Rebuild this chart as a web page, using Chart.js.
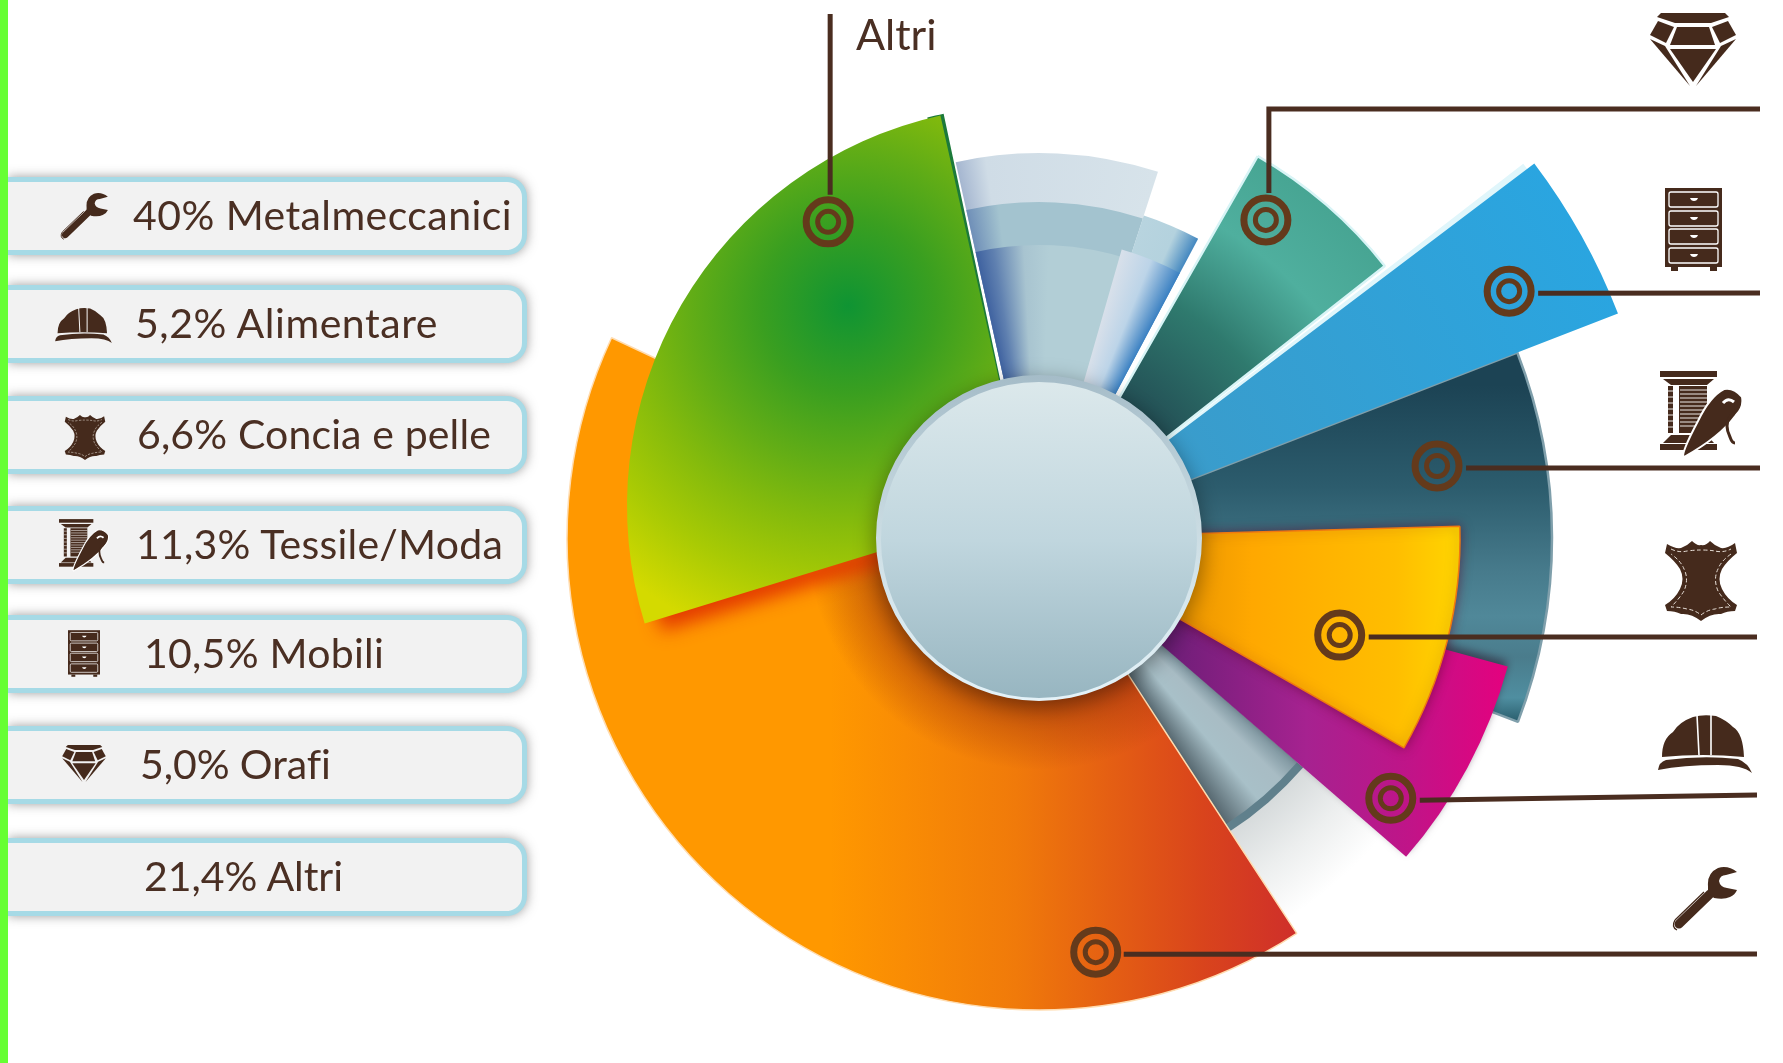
<!DOCTYPE html>
<html lang="it"><head><meta charset="utf-8">
<style>
html,body{margin:0;padding:0;background:#fff;width:1783px;height:1063px;overflow:hidden}
#wrap{position:relative;width:1783px;height:1063px}
canvas{position:absolute;left:0;top:0}
#bar{position:absolute;left:0;top:0;width:8px;height:1063px;background:#66ff33;z-index:3}
.pill{position:absolute;left:8px;width:514px;height:68px;background:#f2f2f2;border:5px solid #a6dae6;border-left:none;border-radius:0 20px 20px 0;box-shadow:0 0 11px rgba(60,60,60,.5);z-index:2}
.txt{position:absolute;z-index:4;font-family:Lato,sans-serif;font-size:41px;line-height:46px;color:#4a2f23;white-space:pre}
.ic{position:absolute;z-index:4;fill:#452a1c}
</style></head><body>
<div id="wrap"><div id="bar"></div><canvas id="c" width="1783" height="1063"></canvas>
<svg width="0" height="0" style="position:absolute"><defs>
<symbol id="wrench" viewBox="0 0 65 64"><path d="M7 57L38 27" stroke="#452a1c" stroke-width="9" stroke-linecap="round" fill="none"/><path d="M3 53L32 25" stroke="#452a1c" stroke-width="1.3" fill="none"/><path d="M3 53Q-1 60 5 63" stroke="#452a1c" stroke-width="1.3" fill="none"/><path d="M65 5Q56-2 46 1Q35 6 36 19L36 25L42 31Q52 33 58 30Q63 28 65 23L55 21Q48 20 47 14Q48 8 54 8Z"/></symbol>
<symbol id="helmet" viewBox="0 0 94 58"><path d="M4 42Q4 24 15 17Q21 7 35 2Q45-1 58 1Q68 5 75 12Q85 18 86 42Q45 38 4 42Z"/><path d="M39 0L41 40M53 0L53 40" stroke="#fff" stroke-width="1.6" fill="none"/><path d="M0 55Q1 47 8 45Q45 40 80 44Q90 48 94 58Q85 50 60 50Q25 50 0 55Z"/></symbol>
<symbol id="leather" viewBox="0 0 72 80"><path d="M2 3Q10 8 16 7Q22 5 27 0Q32 5 36 4Q41 5 45 0Q50 5 56 7Q62 8 70 2L72 12Q62 20 57 28Q52 38 57 48Q62 58 72 64L70 70Q62 70 56 73Q46 72 36 80Q26 72 16 73Q10 70 2 70L0 64Q10 58 15 48Q20 38 15 28Q10 20 0 12Z"/><path d="M6 8Q14 12 22 10Q30 9 36 9Q44 9 50 10Q58 12 66 8M66 13Q56 20 53 28Q48 38 53 50Q58 58 66 66Q56 66 50 68Q42 69 36 74Q30 69 22 68Q14 66 6 66Q14 58 19 50Q24 38 19 28Q16 20 6 13" fill="none" stroke="#e8e0d8" stroke-width="1" stroke-dasharray="4 2.5"/></symbol>
<symbol id="thread" viewBox="0 0 83 86"><rect x="0" y="0" width="57" height="6"/><path d="M3 8H54L47 14H11Z"/><path d="M8 15H13V62H8ZM19 15H47V62H19Z"/><path d="M8 20H13M8 26H13M8 32H13M8 38H13M8 44H13M8 50H13M8 56H13M20 19H47M20 23H47M20 27H47M20 31H47M20 35H47M20 39H47M20 43H47M20 47H47M20 51H47M20 55H47" stroke="#fff" stroke-width=".9"/><path d="M11 64H47L54 72H3Z"/><rect x="0" y="73" width="57" height="6"/><path d="M24 86Q20 84 38 50Q50 25 64 18Q74 16 82 26Q84 36 76 44Q60 66 24 86Z" stroke="#fff" stroke-width="2"/><path d="M64 33Q70 24 76 32Q78 40 70 46Q64 54 70 66Q72 72 75 72" stroke="#452a1c" stroke-width="3" fill="none"/><path d="M63 32Q68 26 74 31" stroke="#fff" stroke-width="3" fill="none"/></symbol>
<symbol id="drawers" viewBox="0 0 57 83"><rect x="0" y="0" width="57" height="79"/><g fill="none" stroke="#fff" stroke-width="1.3"><rect x="4" y="4" width="49" height="15" rx="2"/><rect x="4" y="23" width="49" height="15" rx="2"/><rect x="4" y="41" width="49" height="15" rx="2"/><rect x="4" y="60" width="49" height="15" rx="2"/></g><g fill="#fff"><path d="M25 10H33Q32 13 29 13Q26 13 25 10Z"/><path d="M25 29H33Q32 32 29 32Q26 32 25 29Z"/><path d="M25 47H33Q32 50 29 50Q26 50 25 47Z"/><path d="M25 66H33Q32 69 29 69Q26 69 25 66Z"/></g><rect x="6" y="79" width="7" height="4"/><rect x="45" y="79" width="7" height="4"/></symbol>
<symbol id="gem" viewBox="0 0 88 75"><path d="M12 0H76L80 4L62 10H26L8 4Z"/><path d="M9 8L25 14L17 30L1 22Z"/><path d="M79 8L63 14L71 30L87 22Z"/><path d="M28 14H60L66 32H21Z"/><path d="M21 36H67L44 69Z"/><path d="M1 26L16 33L41 73Z"/><path d="M87 26L72 33L47 73Z"/></symbol>
</defs></svg></div>
<script src="https://cdn.jsdelivr.net/npm/chart.js@4/dist/chart.umd.js"></script>
<script>
// ---- values
const categories = ['Metalmeccanici','Alimentare','Concia e pelle','Tessile/Moda','Mobili','Orafi','Altri'];
const shareLabels = ['40%','5,2%','6,6%','11,3%','10,5%','5,0%','21,4%'];
const sliceRadius = [472,487,421,513,621,440,400];
const sliceStart  = [146.9,105.3,88.4,68.8,52.9,29.8,252.9];
const sliceSweep  = [148.2,25.6,31.5,42.2,15.9,22,94.6];
const fanRadius = [385,336,293,339,300,460,350,342,612,401,385,232];
const fanStart  = [347.5,347.5,347.5,18,16,131,131,131,52.3,345.6,253,147];
const fanSweep  = [30.5,30.5,30.5,10,12,16,16,16,1.5,2.4,6,123];
const markerAngle  = [172.2,126.5,107.9,79.75,62.3,35.5,326.3];
const markerRadius = [418,437.6,316,404.5,531,390.7,380];
const iconNames = ['wrench','helmet','leather','thread','drawers','gem',null];
const discRadius = [163,158];
const altriCaption = 'Altri';

// ---- page furniture
const wrap = document.getElementById('wrap');
const rowTop = [177,285,396,506,615,726,838];
const textX = [133,135,137,136,144,140,144];
const textW = [379,303,354,367,240,190,199];
const leftIcon = [[59,193,50,47],[55,308,57,35],[64,415,42,45],[59,518,50,54],[68,630,32,47],[60,745,48,38]];
const rightIcon = [[1672,867,65,64],[1658,715,94,58],[1665,541,72,80],[1660,371,83,86],[1665,188,57,83],[1649,13,88,75]];
function icon(name,b){const s=document.createElementNS('http://www.w3.org/2000/svg','svg');s.setAttribute('class','ic');s.setAttribute('preserveAspectRatio','none');s.style.cssText=`left:${b[0]}px;top:${b[1]}px;width:${b[2]}px;height:${b[3]}px`;s.innerHTML=`<use href="#${name}"/>`;wrap.appendChild(s);}
categories.forEach((c,i)=>{
  const p=document.createElement('div');p.className='pill';p.style.top=rowTop[i]+'px';wrap.appendChild(p);
  const t=document.createElement('div');t.className='txt';t.textContent=shareLabels[i]+' '+c;t.style.left=textX[i]+'px';t.style.top=(rowTop[i]+15)+'px';wrap.appendChild(t);
  const w=t.getBoundingClientRect().width;t.style.letterSpacing=((textW[i]-w)/t.textContent.length)+'px';
  if(iconNames[i]){icon(iconNames[i],leftIcon[i]);icon(iconNames[i],rightIcon[i]);}
});
const cap=document.createElement('div');cap.className='txt';cap.textContent=altriCaption;cap.style.cssText='left:856px;top:11px;font-size:43px';wrap.appendChild(cap);

// ---- fills
const dist=(c,v)=>c.chart.scales.r.getDistanceFromCenterForValue(v);
const radial=(rmax,stops)=>c=>{const s=c.chart.scales.r;const g=c.chart.ctx.createRadialGradient(s.xCenter,s.yCenter,0,s.xCenter,s.yCenter,dist(c,rmax));stops.forEach(p=>g.addColorStop(p[0]/rmax,p[1]));return g;};
const sweepFill=(from,stops)=>c=>{const s=c.chart.scales.r;const g=c.chart.ctx.createConicGradient((from-90)*Math.PI/180,s.xCenter,s.yCenter);stops.forEach(p=>g.addColorStop(((p[0]-from+360)%360)/360,p[1]));return g;};
const across=(x0,x1,stops)=>c=>{const g=c.chart.ctx.createLinearGradient(x0,0,x1,0);stops.forEach(p=>g.addColorStop(p[0],p[1]));return g;};
const downward=(y0,y1,stops)=>c=>{const g=c.chart.ctx.createLinearGradient(0,y0,0,y1);stops.forEach(p=>g.addColorStop(p[0],p[1]));return g;};

const sliceFill=[
  across(1296,830,[[0,'#cf2f2a'],[.2,'#d9441c'],[.6,'#f07a0a'],[1,'#ff9800']]),
  across(1170,1513,[[0,'#6e1e78'],[.4,'#a62290'],[.7,'#c01488'],[1,'#e6007e']]),
  across(1200,1462,[[0,'#f09a00'],[.2,'#ffa800'],[.75,'#ffbe00'],[1,'#ffd600']]),
  downward(385,725,[[0,'#1c4354'],[.3,'#2c5c6d'],[.55,'#477b8c'],[.68,'#508899'],[.8,'#4a7c8c'],[.92,'#4f8ea0'],[1,'#245766']]),
  radial(621,[[162,'#3a9ccb'],[621,'#2aa5e0']]),
  radial(440,[[162,'#234f55'],[270,'#2f7a6e'],[360,'#4faf9e'],[440,'#47a593']]),
  c=>{const x=c.chart.ctx.createRadialGradient(860,338,0,860,338,350);[[0,'#0f9433'],[.25,'#3a9f20'],[.45,'#62ad16'],[.62,'#85bb0c'],[.8,'#a8ca04'],[1,'#d4da00']].forEach(p=>x.addColorStop(p[0],p[1]));return x;}
];
const sliceBorder=[['#ffdcb0',1.5],['#d0208c',0],['#f07810',1.5],['#7f9fab',2.5],['#d8f3fa',0],['#d8f4f6',2.5],['#1f8a38',0]];
const fanFill=[
  sweepFill(340,[[347.5,'#a5b6d0'],[352,'#cfdce6'],[18,'#d7e3ea']]),
  sweepFill(340,[[347.5,'#6f8fb8'],[353,'#a3c3cf'],[18,'#a3c3cf']]),
  sweepFill(340,[[347.5,'#3f62a0'],[351,'#5f80b0'],[357,'#a8c4d0'],[2,'#b2ced6'],[18,'#b2ced6']]),
  sweepFill(340,[[18,'#b8d4df'],[24,'#b4d2de'],[28,'#4488c0']]),
  sweepFill(340,[[16,'#d8e0ea'],[22,'#bcd4e8'],[28,'#3a80c2']]),
  radial(460,[[340,'#d2d7d8'],[400,'#eceeee'],[455,'#ffffff']]),
  '#60808c',
  sweepFill(120,[[131,'#7a929c'],[135,'#a8bcc4'],[140,'#a8c0c8'],[147,'#55666e']]),
  '#e0f6fb',
  '#1c7a3a',
  '#d84a08',
  radial(232,[[160,'rgba(150,45,10,.55)'],[232,'rgba(150,45,10,0)']])
];

// ---- layers, back to front
const layer=(r,start,sweep,fill,extra)=>Object.assign({data:[0,r],starts:[start,sweep],backgroundColor:fill,borderWidth:0,clip:false},extra||{});
const sl=(i,extra)=>layer(sliceRadius[i],sliceStart[i],sliceSweep[i],sliceFill[i],Object.assign({borderColor:sliceBorder[i][0],borderWidth:sliceBorder[i][1],label:categories[i]},extra||{}));
const fn=(i,extra)=>layer(fanRadius[i],fanStart[i],fanSweep[i],fanFill[i],extra);
const whole=(r,fill,extra)=>Object.assign({data:[r],starts:[360],backgroundColor:fill,borderWidth:0,clip:false},extra||{});
const greenShift=[-12,-32];
const back2front=[
  fn(0),fn(1),fn(2),fn(3),fn(4),fn(5),fn(6),fn(7),
  sl(3),
  sl(5),
  fn(8),
  sl(4),
  sl(1,{glow:['rgba(40,20,40,.55)',9,0,-5],nudge:[-1,0]}),
  sl(2,{glow:['rgba(90,0,40,.55)',12,0,0]}),
  sl(0),
  fn(11),
  fn(9,{nudge:greenShift}),
  fn(10,{nudge:greenShift,glow:['rgba(225,50,0,.9)',18,3,13]}),
  sl(6,{nudge:greenShift}),
  whole(discRadius[0],downward(375,700,[[0,'#a5bcc8'],[.55,'#cfe0e6'],[1,'#e4f2f8']]),{glow:['rgba(0,0,0,.4)',22,0,6]}),
  whole(discRadius[1],downward(383,694,[[0,'#dbe8eb'],[.5,'#c0d6de'],[1,'#98b6c1']]),{nudge:[0,2]})
];

// ---- per-dataset translation/shadow, target markers and leader lines
const layerFx={id:'layerFx',
  beforeDatasetDraw(ch,a){const d=ch.data.datasets[a.index],x=ch.ctx;x.save();if(d.nudge)x.translate(d.nudge[0],d.nudge[1]);if(d.glow){x.shadowColor=d.glow[0];x.shadowBlur=d.glow[1];x.shadowOffsetX=d.glow[2];x.shadowOffsetY=d.glow[3];}},
  afterDatasetDraw(ch){ch.ctx.restore();}
};
const leaderRoutes=[
  [[28,2],[1757,954]],[[29,2],[1757,795]],[[29,2],[1757,637]],
  [[29,2],[1760,468]],[[29,2],[1760,293]],
  [[3,-27],[null,109],[1760,109]],[[2,-27],[null,14]]
];
const markers={id:'markers',afterDatasetsDraw(ch){
  const x=ch.ctx,s=ch.scales.r;
  markerAngle.forEach((deg,i)=>{
    const t=deg*Math.PI/180,d=s.getDistanceFromCenterForValue(markerRadius[i]);
    const cx=s.xCenter+d*Math.sin(t),cy=s.yCenter-d*Math.cos(t);
    x.save();
    const rt=leaderRoutes[i];x.strokeStyle='#4a2d20';x.lineWidth=5;x.beginPath();
    let px=cx+rt[0][0],py=cy+rt[0][1];x.moveTo(px,py);
    for(let k=1;k<rt.length;k++){px=rt[k][0]===null?px:rt[k][0];py=rt[k][1];x.lineTo(px,py);}
    x.lineJoin='miter';x.stroke();
    x.strokeStyle='#643a1b';
    x.lineWidth=7;x.beginPath();x.arc(cx,cy,22,0,7);x.stroke();
    x.lineWidth=5;x.beginPath();x.arc(cx,cy,10.5,0,7);x.stroke();
    x.restore();
  });
}};

new Chart(document.getElementById('c'),{
  type:'polarArea',
  data:{labels:categories,datasets:back2front.slice().reverse()},
  options:{
    responsive:false,animation:false,
    layout:{padding:{left:539,right:244,top:38,bottom:25}},
    datasets:{polarArea:{angle:c=>c.dataset.starts[c.dataIndex]}},
    elements:{arc:{angle:c=>c.dataset.starts[c.dataIndex]}},
    plugins:{legend:{display:false},tooltip:{enabled:false}},
    scales:{r:{display:false,min:0,max:500,startAngle:0,ticks:{display:false},grid:{display:false},angleLines:{display:false},pointLabels:{display:false}}}
  },
  plugins:[layerFx,markers]
});
</script></body></html>
